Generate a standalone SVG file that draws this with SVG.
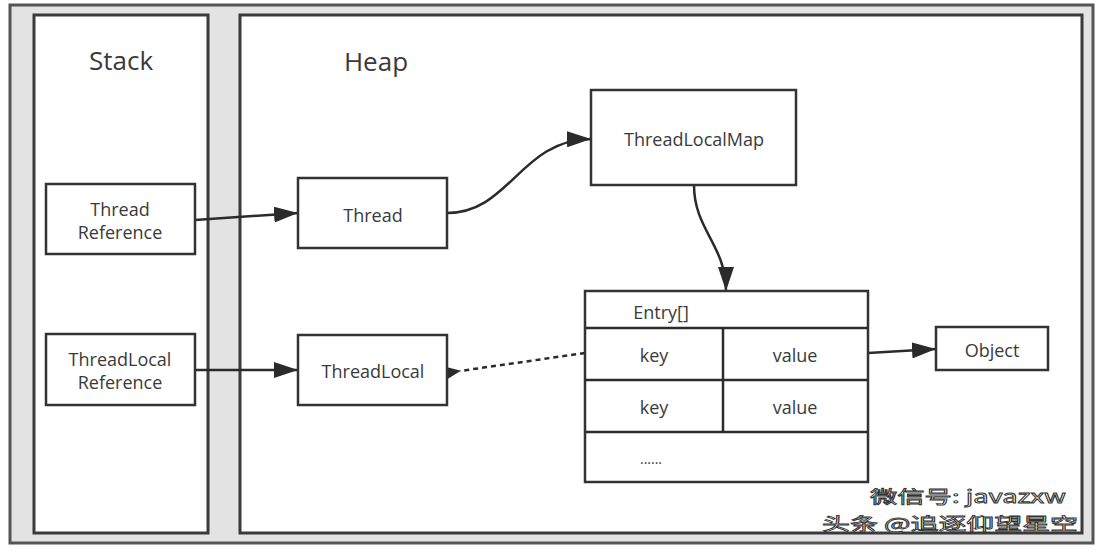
<svg xmlns="http://www.w3.org/2000/svg" width="1102" height="551" viewBox="0 0 1102 551">
<defs>
<marker id="big" viewBox="0 0 24 16" refX="24" refY="8" markerWidth="24" markerHeight="16" markerUnits="userSpaceOnUse" orient="auto">
<path d="M0,0 L24,8 L0,16 z" fill="#2b2b2b"/>
</marker>
<marker id="small" viewBox="0 0 14 12" refX="1" refY="6" markerWidth="14" markerHeight="12" markerUnits="userSpaceOnUse" orient="auto">
<path d="M14,0 L0,6 L14,12 z" fill="#2b2b2b"/>
</marker>
</defs>
<style>
.box{fill:#fff;stroke:#333;stroke-width:2.5}
.panel{fill:#fff;stroke:#3a3a3a;stroke-width:3}
.t{font-family:"Open Sans","Noto Sans",sans-serif;font-size:18px;fill:#3a3a3a;text-anchor:middle;dominant-baseline:central}
.title{font-family:"Open Sans","Noto Sans",sans-serif;font-size:26px;fill:#3a3a3a;text-anchor:middle;dominant-baseline:central}
.line{fill:none;stroke:#2b2b2b;stroke-width:2.5}
.wm{font-family:"Noto Sans CJK SC",sans-serif;font-size:17px;fill:#fff;stroke:#333;stroke-width:0.8}
</style>
<rect x="0" y="0" width="1102" height="551" fill="#fff"/>
<rect x="10" y="5" width="1083" height="538" fill="#e3e3e3" stroke="#555" stroke-width="3"/>
<g id="stack">
<rect class="panel" x="34" y="15" width="174" height="518"/>
<text class="title" x="121" y="60">Stack</text>
</g>
<g id="heap">
<rect class="panel" x="240" y="15" width="842" height="518"/>
<text class="title" x="376" y="61">Heap</text>
</g>
<g id="connectors">
<path class="line" d="M195,220 L298,213" marker-end="url(#big)"/>
<path class="line" d="M195,370 L298,370" marker-end="url(#big)"/>
<path class="line" d="M447,213 C510,213 520,140 591,139" marker-end="url(#big)"/>
<path class="line" d="M694,185 C694,230 726,245 726,291" marker-end="url(#big)"/>
<path class="line" d="M585,353 L460,371" stroke-dasharray="5,4" stroke-width="3" marker-end="url(#small)"/>
<path class="line" d="M868,353 L936,349" marker-end="url(#big)"/>
</g>
<g id="thread-reference">
<rect class="box" x="46" y="184" width="149" height="70"/>
<text class="t" x="120" y="209">Thread</text>
<text class="t" x="120" y="232">Reference</text>
</g>
<g id="threadlocal-reference">
<rect class="box" x="46" y="334" width="149" height="71"/>
<text class="t" x="120" y="359">ThreadLocal</text>
<text class="t" x="120" y="382">Reference</text>
</g>
<g id="thread">
<rect class="box" x="298" y="178" width="149" height="70"/>
<text class="t" x="373" y="215">Thread</text>
</g>
<g id="threadlocal">
<rect class="box" x="298" y="335" width="149" height="70"/>
<text class="t" x="373" y="371">ThreadLocal</text>
</g>
<g id="threadlocalmap">
<rect class="box" x="591" y="90" width="205" height="95"/>
<text class="t" x="694" y="139">ThreadLocalMap</text>
</g>
<g id="entry">
<rect class="box" x="585" y="291" width="283" height="191"/>
<line class="line" x1="585" y1="328" x2="868" y2="328"/>
<line class="line" x1="585" y1="380" x2="868" y2="380"/>
<line class="line" x1="585" y1="432" x2="868" y2="432"/>
<line class="line" x1="723" y1="328" x2="723" y2="432"/>
<text class="t" x="661" y="312">Entry[]</text>
<text class="t" x="654" y="355">key</text>
<text class="t" x="795" y="355">value</text>
<text class="t" x="654" y="407">key</text>
<text class="t" x="795" y="407">value</text>
<text class="t" x="651" y="458" style="font-size:14px">......</text>
</g>
<g id="object">
<rect class="box" x="936" y="327" width="112" height="43"/>
<text class="t" x="992" y="350">Object</text>
</g>
<g id="watermark">
<text class="wm" x="870" y="503" textLength="196" lengthAdjust="spacingAndGlyphs">微信号: javazxw</text>
<text class="wm" x="822" y="530" textLength="256" lengthAdjust="spacingAndGlyphs">头条 @追逐仰望星空</text>
</g>
</svg>
